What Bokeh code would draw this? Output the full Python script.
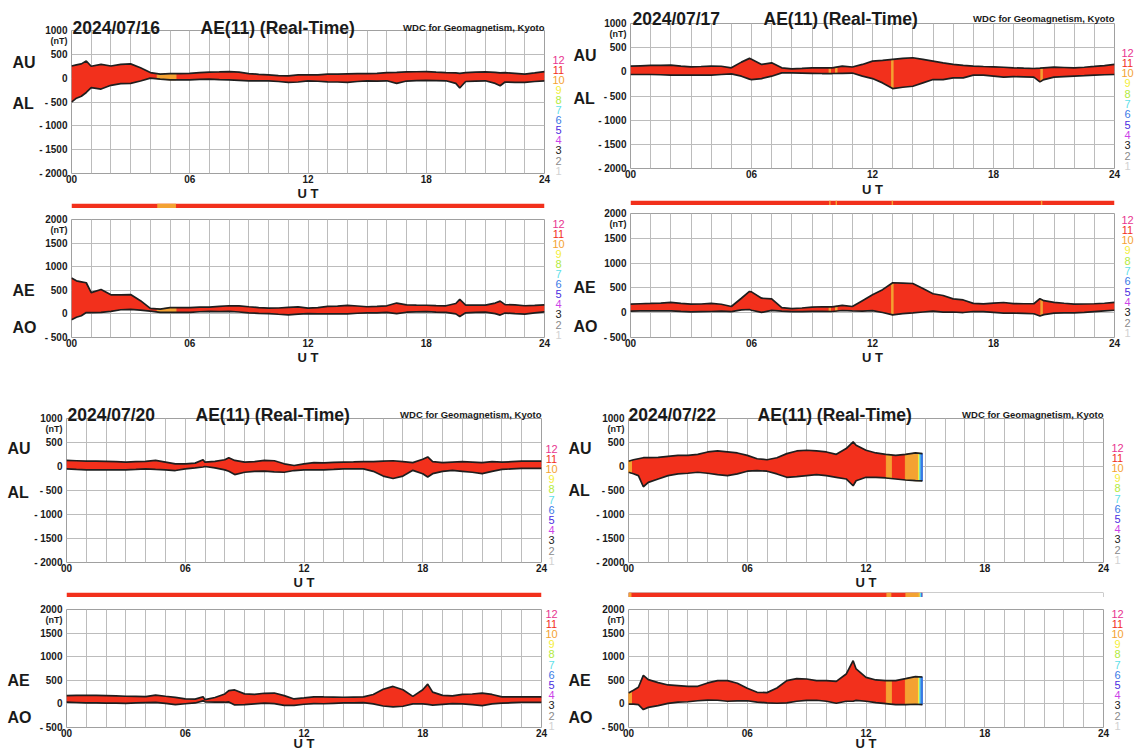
import numpy as np
from collections import defaultdict
from bokeh.plotting import figure
from bokeh.layouts import column, row
from bokeh.models import Range1d, FixedTicker, GridBox
from bokeh.core.properties import value
from bokeh.embed import file_html
from bokeh.resources import INLINE

# ---------------- data ----------------
DATES = ["2024/07/16", "2024/07/17", "2024/07/20", "2024/07/22"]

T_0716 = [0, 0.25, 0.5, 0.75, 1,
          1.5, 2, 2.5, 3, 3.5, 4,
          4.5, 5, 5.5, 6, 6.5, 7, 7.5, 8,
          8.5, 9, 9.5, 10, 10.5, 11, 11.5, 12,
          12.5, 13, 13.5, 14, 14.5, 15, 15.5, 16,
          16.5, 17, 17.5, 18, 18.5, 19, 19.5, 19.7,
          20, 20.5, 21, 21.5, 21.75, 22, 22.5, 23, 23.5, 24]
AU_0716 = [255, 280, 300, 360, 250,
           290, 255, 290, 300, 220, 117,
           83, 97, 97, 100, 117, 125, 130, 138,
           125, 97, 80, 69, 55, 48, 69, 69,
           69, 83, 83, 90, 97, 97, 100, 117,
           120, 131, 135, 138, 125, 117, 110, 100,
           117, 125, 131, 120, 110, 117, 100, 83, 110, 138]
AL_0716 = [-504, -420, -380, -300, -200,
           -228, -150, -115, -110, -60, 0,
           -20, -35, -35, -35, -25, -20, -30, -35,
           -45, -55, -55, -55, -70, -90, -80, -55,
           -65, -76, -80, -90, -70, -55, -60, -55,
           -110, -60, -50, -45, -50, -55, -110, -207,
           -70, -60, -55, -110, -160, -80, -90, -90, -70, -55]
EXC_0716_START = [4.35]
EXC_0716_END = [5.3]
EXC_0716_N = [10]

T_0717 = [0, 0.5, 1, 1.5, 2, 2.5, 3, 3.5,
          4, 4.5, 5, 5.5, 5.9, 6, 6.5, 7,
          7.5, 8, 8.5, 9, 9.5, 10, 10.5, 11,
          11.5, 12, 12.5, 13, 13.5, 14, 14.5, 15,
          15.5, 16, 16.5, 17, 17.5, 18, 18.5, 19,
          19.5, 20, 20.3, 20.5, 21, 21.5, 22, 22.5,
          23, 23.5, 24]
AU_0717 = [118, 125, 132, 135, 139, 120, 104, 110,
           118, 115, 83, 201, 278, 260, 153, 187,
           83, 62, 70, 83, 85, 83, 118, 100,
           153, 222, 236, 257, 278, 291, 257, 222,
           187, 153, 132, 118, 110, 104, 95, 83,
           75, 69, 75, 83, 97, 90, 83, 95,
           111, 130, 153]
AL_0717 = [-55, -55, -55, -60, -69, -69, -69, -65,
           -69, -55, -42, -90, -150, -160, -139, -90,
           -21, -21, -25, -30, -35, -35, -30, -25,
           -90, -139, -229, -347, -319, -298, -229, -160,
           -160, -125, -125, -69, -69, -90, -111, -100,
           -105, -111, -208, -160, -111, -100, -90, -80,
           -69, -60, -55]
EXC_0717_START = [9.85, 10.17, 12.95, 20.35]
EXC_0717_END = [9.92, 10.24, 13.02, 20.42]
EXC_0717_N = [10, 10, 10, 10]

T_0720 = [0, 0.5, 1, 1.5, 2, 2.5, 3, 3.5,
          4, 4.5, 5, 5.5, 6, 6.5, 6.9, 7,
          7.5, 8, 8.2, 8.5, 9, 9.5, 10, 10.5,
          11, 11.5, 12, 12.5, 13, 13.5, 14, 14.5,
          15, 15.5, 16, 16.5, 17, 17.5, 18, 18.25,
          18.5, 19, 19.5, 20, 20.5, 21, 21.5, 22,
          22.5, 23, 23.5, 24]
AU_0720 = [127, 120, 113, 110, 106, 100, 92, 100,
           106, 127, 92, 56, 56, 70, 141, 90,
           106, 141, 183, 127, 92, 100, 127, 120,
           56, 21, 56, 80, 77, 85, 92, 95,
           100, 100, 110, 120, 100, 80, 150, 200,
           100, 80, 90, 100, 90, 80, 100, 90,
           100, 110, 110, 110]
AL_0720 = [-49, -60, -70, -70, -70, -70, -70, -60,
           -49, -60, -70, -84, -49, -30, -10, 0,
           -30, -70, -100, -169, -120, -100, -98, -110,
           -120, -84, -70, -70, -70, -60, -49, -50,
           -49, -100, -200, -250, -200, -80, -150, -220,
           -150, -100, -80, -100, -120, -150, -100, -60,
           -50, -40, -40, -40]
EXC_0720_START = []
EXC_0720_END = []
EXC_0720_N = []

T_0722 = [0, 0.25, 0.5, 0.75, 1, 1.5, 2, 2.5,
          3, 3.5, 4, 4.5, 5, 5.5, 6, 6.5,
          7, 7.5, 8, 8.5, 9, 9.5, 10, 10.5,
          11, 11.35, 11.5, 12, 12.5, 13, 13.5, 14,
          14.5, 14.85]
AU_0722 = [110, 140, 162, 183, 183, 190, 211, 232,
           232, 253, 303, 324, 303, 282, 232, 162,
           141, 183, 268, 324, 338, 324, 303, 253,
           373, 514, 444, 338, 282, 253, 232, 253,
           282, 270]
AL_0722 = [-120, -150, -190, -422, -331, -260, -190, -155,
           -141, -120, -141, -169, -190, -155, -98, -84,
           -98, -155, -225, -211, -190, -169, -190, -225,
           -260, -401, -296, -225, -225, -239, -260, -281,
           -296, -300]
EXC_0722_START = [0, 13.03, 13.99, 14.65, 14.72, 14.78]
EXC_0722_END = [0.15, 13.28, 14.65, 14.72, 14.78, 14.85]
EXC_0722_N = [10, 10, 10, 9, 7, 6]

STATION_NUMBERS = [12, 11, 10, 9, 8, 7, 6, 5, 4, 3, 2, 1]
STATION_COLOR_LIST = ["#e8358f", "#f2301c", "#f4a232", "#f4ee3a", "#b2ea3e", "#5ee0e8",
                      "#3a7ae6", "#4a2ee0", "#cc44e8", "#222222", "#8a8a8a", "#d2d2d2"]
STATION_COLORS = dict(zip(STATION_NUMBERS, STATION_COLOR_LIST))

X_TICKS = [0, 6, 12, 18, 24]
X_TICK_LABELS = ["00", "06", "12", "18", "24"]
AUAL_TICKS = [1000, 500, 0, -500, -1000, -1500, -2000]
AUAL_TICK_LABELS = ["1000", "500", "0", "- 500", "- 1000", "- 1500", "- 2000"]
AEAO_TICKS = [2000, 1500, 1000, 500, 0, -500]
AEAO_TICK_LABELS = ["2000", "1500", "1000", "500", "0", "- 500"]

# ---------------- styling ----------------
FONT = "Liberation Sans"
INK = "#1a1a1a"
GRID = "#bcbcbc"
FRAME = "#a0a0a0"
EDGE = "#1e1e1e"
PAGE_W, PAGE_H = 1135, 753

TEXTS = defaultdict(list)   # overlay texts grouped by style


def add_text(x, y, text, size, bold=True, align="left", baseline="alphabetic", color=INK):
    TEXTS[(size, bold, align, baseline)].append((x, y, text, color))


def axes_fig(width, height, ml, mr, mt, mb, ylo, yhi, ticks, labels):
    p = figure(width=width, height=height, x_range=Range1d(0, 24), y_range=Range1d(ylo, yhi),
               output_backend="svg", toolbar_location=None, title=None,
               min_border_left=ml, min_border_right=mr, min_border_top=mt, min_border_bottom=mb)
    p.outline_line_color = FRAME
    p.outline_line_width = 1
    xa = p.xaxis[0]
    ya = p.yaxis[0]
    xa.ticker = FixedTicker(ticks=X_TICKS)
    xa.major_label_overrides = {v: s for v, s in zip(X_TICKS, X_TICK_LABELS)}
    ya.ticker = FixedTicker(ticks=ticks)
    ya.major_label_overrides = {v: s for v, s in zip(ticks, labels)}
    for ax in (xa, ya):
        ax.axis_line_color = None
        ax.major_tick_line_color = None
        ax.minor_tick_line_color = None
        ax.major_tick_out = 0
        ax.major_tick_in = 0
        ax.minor_tick_out = 0
        ax.minor_tick_in = 0
        ax.major_label_text_font = FONT
        ax.major_label_text_font_size = "10px"
        ax.major_label_text_font_style = "bold"
        ax.major_label_text_color = INK
    xa.major_label_standoff = 1
    ya.major_label_standoff = 4
    p.xgrid.ticker = FixedTicker(ticks=list(range(25)))
    p.ygrid.ticker = FixedTicker(ticks=ticks)
    p.grid.grid_line_color = GRID
    p.grid.grid_line_width = 1
    return p


def draw_band(p, t, lo, hi, exc_s, exc_e, exc_n):
    t = np.asarray(t, float)
    lo = np.asarray(lo, float)
    hi = np.asarray(hi, float)
    p.varea(x=t, y1=lo, y2=hi, fill_color=STATION_COLORS[11])
    for s, e, n in zip(exc_s, exc_e, exc_n):
        ts = np.linspace(s, e, 12)
        u = np.interp(ts, t, hi)
        l = np.interp(ts, t, lo)
        p.patch(x=np.concatenate([ts, ts[::-1]]), y=np.concatenate([u, l[::-1]]),
                fill_color=STATION_COLORS[n], line_color=STATION_COLORS[n], line_width=1)
    p.line(t, hi, line_color=EDGE, line_width=1.7)
    p.line(t, lo, line_color=EDGE, line_width=1.7)


BAR_H, BAR_TOP, BAR_BOT = 13, 8, 13   # strip figure height and bar rows within it


def bar_fig(width, ml, mr, t_end, exc_s, exc_e, exc_n):
    b = figure(width=width, height=BAR_H, x_range=Range1d(0, 24), y_range=Range1d(0, 1),
               output_backend="svg", toolbar_location=None, title=None,
               x_axis_location=None, y_axis_location=None,
               min_border_left=ml, min_border_right=mr,
               min_border_top=BAR_TOP, min_border_bottom=BAR_H - BAR_BOT)
    b.outline_line_color = None
    b.grid.visible = False
    if t_end < 24:
        b.quad(left=[0], right=[24], bottom=[0], top=[1], fill_color="white",
               line_color="#9a9a9a", line_width=1)
    b.quad(left=[0], right=[t_end], bottom=[0], top=[1],
           fill_color=STATION_COLORS[11], line_color=None)
    if len(exc_s):
        b.quad(left=exc_s, right=exc_e, bottom=0, top=1,
               fill_color=[STATION_COLORS[n] for n in exc_n], line_color=None)
    return b


def panel(date, t, au, al, exc_s, exc_e, exc_n, g):
    au = np.asarray(au, float)
    al = np.asarray(al, float)
    ae = au - al              # AE = AU - AL
    ao = (au + al) / 2.0      # AO = (AU + AL) / 2
    w, ml, mr = g["w"], g["ml"], g["mr"]
    x0 = g["x0"]
    fl, fr = x0 + ml, x0 + w - mr          # frame left / right on the page

    top = axes_fig(w, g["th"], ml, mr, g["tmt"], g["tmb"], -2000, 1000,
                   AUAL_TICKS, AUAL_TICK_LABELS)
    draw_band(top, t, al, au, exc_s, exc_e, exc_n)
    bar = bar_fig(w, ml, mr, t[-1], exc_s, exc_e, exc_n)
    bot = axes_fig(w, g["hh"], ml, mr, g["hmt"], g["hmb"], -500, 2000,
                   AEAO_TICKS, AEAO_TICK_LABELS)
    draw_band(bot, t, ao, ae, exc_s, exc_e, exc_n)

    # page positions of the two frames
    tt = g["y0"] + g["tmt"]
    tb = g["y0"] + g["th"] - g["tmb"]
    bt = g["y0"] + g["th"] + BAR_H + g["hmt"]
    bb = g["y0"] + g["th"] + BAR_H + g["hh"] - g["hmb"]

    add_text(fl + g["tdx"], tt - g["tdy"], date, "17.5px")
    add_text(fl + g["adx"], tt - g["tdy"], "AE(11) (Real-Time)", "17.5px")
    add_text(fr, tt - g["tdy"], "WDC for Geomagnetism, Kyoto", "9.5px", align="right")
    for (txt, dy, ft) in (("AU", g["au"], tt), ("AL", g["al"], tt),
                          ("AE", g["ae"], bt), ("AO", g["ao"], bt)):
        add_text(fl - g["lab"], ft + dy, txt, "16px", baseline="middle")
    for ft, fb, first, ut in ((tt, tb, g["lt"], g["ut"]), (bt, bb, g["lb"], g["ub"])):
        add_text(fl - 4, ft + 10, "(nT)", "9px", align="right", baseline="middle")
        add_text((fl + fr) / 2, fb + ut, "U T", "13px", align="center")
        for i, n in enumerate(STATION_NUMBERS):
            add_text(fr + g["lx"], ft + first + i * g["ls"], str(n), "11px", bold=False,
                     align="center", baseline="middle", color=STATION_COLORS[n])
    return column(top, bar, bot, spacing=0)


G1 = dict(x0=0, y0=0, w=564, ml=71, mr=20, th=195, tmt=30, tmb=22,
          hh=151, hmt=11, hmb=22, tdx=1, tdy=3, adx=129, lab=59, au=32, al=73, ae=71, ao=108,
          lx=14, lt=29, lb=4, ls=10.1, ut=20, ub=20)
G2 = dict(x0=564, y0=0, w=571, ml=66, mr=21, th=192, tmt=23, tmb=24,
          hh=154, hmt=8, hmb=22, tdx=2, tdy=5, adx=133, lab=57, au=32, al=75, ae=74, ao=113,
          lx=13, lt=29, lb=6, ls=10.3, ut=21, ub=20)
G3 = dict(x0=0, y0=359, w=564, ml=66, mr=23, th=225, tmt=59, tmb=22,
          hh=152, hmt=12, hmb=22, tdx=1, tdy=4, adx=129, lab=59, au=30, al=74, ae=71, ao=108,
          lx=10, lt=30, lb=4, ls=10.2, ut=20, ub=16)
G4 = dict(x0=564, y0=359, w=571, ml=64, mr=32, th=225, tmt=59, tmb=22,
          hh=152, hmt=12, hmb=22, tdx=0, tdy=4, adx=129, lab=60, au=30, al=72, ae=71, ao=108,
          lx=14, lt=29, lb=4, ls=10.2, ut=20, ub=16)

c1 = panel(DATES[0], T_0716, AU_0716, AL_0716, EXC_0716_START, EXC_0716_END, EXC_0716_N, G1)
c2 = panel(DATES[1], T_0717, AU_0717, AL_0717, EXC_0717_START, EXC_0717_END, EXC_0717_N, G2)
c3 = panel(DATES[2], T_0720, AU_0720, AL_0720, EXC_0720_START, EXC_0720_END, EXC_0720_N, G3)
c4 = panel(DATES[3], T_0722, AU_0722, AL_0722, EXC_0722_START, EXC_0722_END, EXC_0722_N, G4)

content = row(column(c1, c3, spacing=0), column(c2, c4, spacing=0), spacing=0)

# transparent overlay carrying all texts that sit outside the plot frames
ov = figure(width=PAGE_W, height=PAGE_H, x_range=Range1d(0, PAGE_W), y_range=Range1d(PAGE_H, 0),
            output_backend="svg", toolbar_location=None, title=None,
            x_axis_location=None, y_axis_location=None, min_border=0)
ov.background_fill_color = None
ov.border_fill_color = None
ov.outline_line_color = None
ov.grid.visible = False
for (size, bold, align, baseline), items in TEXTS.items():
    xs, ys, txts, cols = zip(*items)
    ov.text(x=list(xs), y=list(ys), text=list(txts), text_color=list(cols),
            text_font=value(FONT), text_font_size=value(size),
            text_font_style="bold" if bold else "normal",
            text_align=align, text_baseline=baseline)

root = GridBox(children=[(content, 0, 0), (ov, 0, 0)])

with open("out.html", "w") as f:
    f.write(file_html(root, INLINE))
